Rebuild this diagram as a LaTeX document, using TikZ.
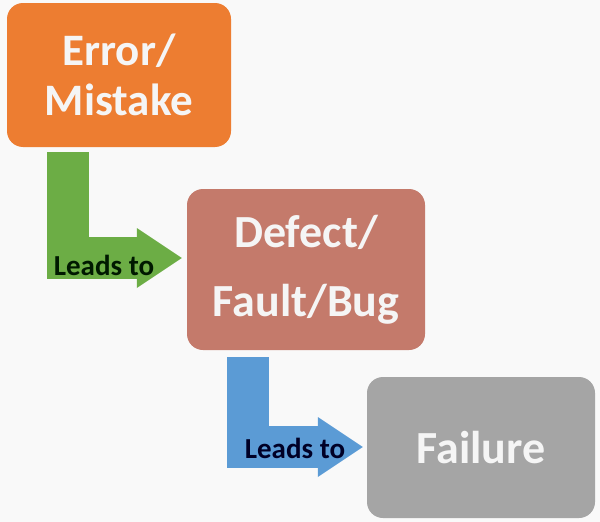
\documentclass[tikz,border=0pt]{standalone}
\usepackage{fontspec}
\setmainfont{Carlito}
\usepackage{tikz}
\usetikzlibrary{arrows.meta, positioning}

\definecolor{errfill}{HTML}{ED7D31}
\definecolor{dfcfill}{HTML}{C47A6B}
\definecolor{failfill}{HTML}{A5A5A5}
\definecolor{greenarr}{HTML}{6CAD45}
\definecolor{bluearr}{HTML}{5B9BD5}
\definecolor{bgfill}{HTML}{F9F9F9}

\begin{document}
\begin{tikzpicture}[
  x=1pt, y=-1pt,
  every node/.style={font=\bfseries},
  stage/.style={
    rectangle, rounded corners=16pt,
    text=white!96!black, inner sep=0pt,
    align=center},
  leadarr/.style={
    line width=42pt, line join=miter,
    -{Triangle[length=45pt,width=60pt,line width=0pt]}},
  lbl/.style={font=\fontsize{29}{32}\selectfont\bfseries, inner sep=0pt},
]

\fill[bgfill] (0,0) rectangle (600,522);
\useasboundingbox (0,0) rectangle (600,522);

\node[stage, fill=errfill, minimum width=224pt, minimum height=144pt,
  font=\fontsize{45}{50}\selectfont\bfseries] (err) at (119, 75)
  {Error/\\Mistake};

\node[stage, fill=dfcfill, minimum width=238pt, minimum height=161pt,
  font=\fontsize{46}{69}\selectfont\bfseries] (dfc) at (306, 269.5)
  {Defect/\\Fault/Bug};

\node[stage, fill=failfill, minimum width=228pt, minimum height=141pt,
  font=\fontsize{46}{50}\selectfont\bfseries] (fail) at (481, 447.5)
  {Failure};

\draw[leadarr, draw=greenarr]
  ([xshift=-51pt,yshift=-5pt]err.south)
  |- ([xshift=-5pt,yshift=11.5pt]dfc.west);
\node[lbl, text=black!90!green] (lead1) at (104, 265) {Leads to};

\draw[leadarr, draw=bluearr]
  ([xshift=-58.5pt,yshift=-7pt]dfc.south)
  |- ([xshift=-4pt,yshift=0.5pt]fail.west);
\node[lbl, text=black!85!blue] (lead2) at (295, 448) {Leads to};

\end{tikzpicture}
\end{document}
